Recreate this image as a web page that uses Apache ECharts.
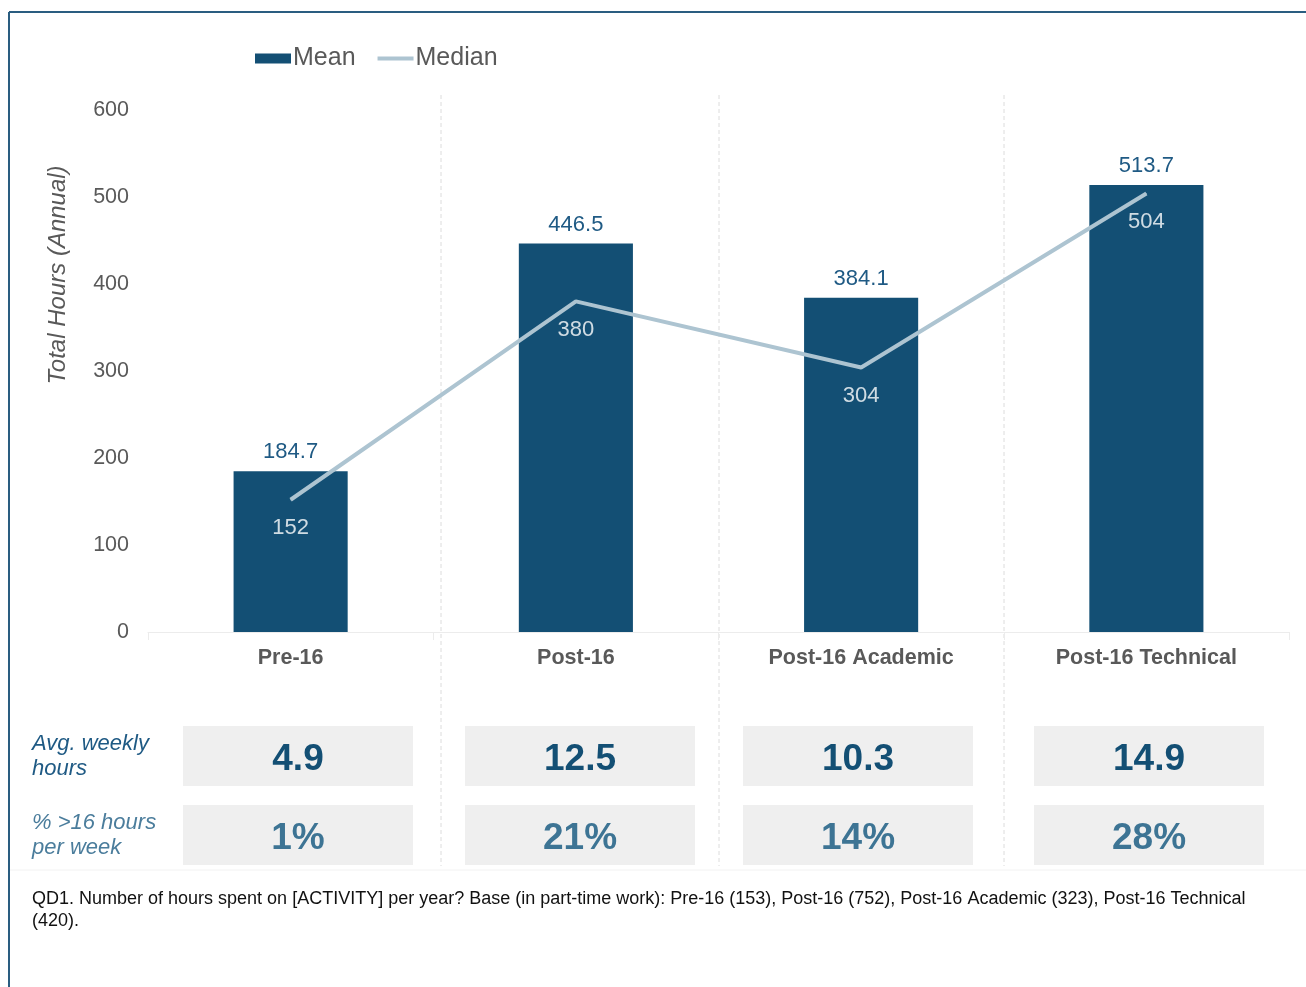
<!DOCTYPE html>
<html>
<head>
<meta charset="utf-8">
<script src="https://cdn.jsdelivr.net/npm/echarts@6/dist/echarts.min.js"></script>
<style>
  html, body { margin: 0; padding: 0; background: #fff; }
  #chart { width: 1306px; height: 987px; }
</style>
</head>
<body>
<div id="chart"></div>
<script>
// data
const categories = ["Pre-16", "Post-16", "Post-16 Academic", "Post-16 Technical"];
const meanHours = [184.7, 446.5, 384.1, 513.7];
const medianHours = [152, 380, 304, 504];
const avgWeekly = ["4.9", "12.5", "10.3", "14.9"];
const pctOver16 = ["1%", "21%", "14%", "28%"];
const yTicks = [0, 100, 200, 300, 400, 500, 600];

const font = "Liberation Sans, Arial, sans-serif";
const dark = "#134f74";
const light = "#adc4d1";

// table boxes (layout only)
const boxX = [183, 465, 743, 1034];
const boxW = 230;
const rows = [
  { y: 726, h: 60, vals: avgWeekly, color: "#134f74", label: "Avg. weekly\nhours", labelColor: "#1f5a84" },
  { y: 805, h: 60, vals: pctOver16, color: "#3d7494", label: "% >16 hours\nper week", labelColor: "#4b7d9c" }
];

let graphics = [
  // frame
  { type: "line", shape: { x1: 9, y1: 12, x2: 1306, y2: 12 }, style: { stroke: "#2a5d80", lineWidth: 2 } },
  { type: "line", shape: { x1: 9, y1: 12, x2: 9, y2: 987 }, style: { stroke: "#2a5d80", lineWidth: 2 } },
  // faint line under table
  { type: "line", shape: { x1: 10, y1: 870, x2: 1306, y2: 870 }, style: { stroke: "#f2f2f2", lineWidth: 1 } },
  // y axis title
  {
    type: "text", x: 58, y: 275, rotation: Math.PI / 2,
    style: { text: "Total Hours (Annual)", font: "italic 24px " + font, fill: "#595959", textAlign: "center", textVerticalAlign: "middle" }
  },
  // footnote
  {
    type: "text", left: 32, top: 888,
    style: {
      text: "QD1. Number of hours spent on [ACTIVITY] per year? Base (in part-time work): Pre-16 (153), Post-16 (752), Post-16 Academic (323), Post-16 Technical\n(420).",
      font: "18px " + font, fill: "#111", lineHeight: 22
    }
  }
];

[441, 719, 1004].forEach(x => {
  graphics.push({ type: "line", z: 0, shape: { x1: x, y1: 95, x2: x, y2: 866 }, style: { stroke: "#dcdcdc", lineWidth: 1, lineDash: [4, 3] } });
});

rows.forEach(r => {
  graphics.push({
    type: "text", left: 32, top: r.y + 5,
    style: { text: r.label, font: "italic 22px " + font, fill: r.labelColor, lineHeight: 25 }
  });
  r.vals.forEach((v, i) => {
    graphics.push({ type: "rect", shape: { x: boxX[i], y: r.y, width: boxW, height: r.h }, style: { fill: "#efefef" } });
    graphics.push({
      type: "text", x: boxX[i] + boxW / 2, y: r.y + r.h / 2 + 4,
      style: { text: v, font: "bold 37px " + font, fill: r.color, textAlign: "center", textVerticalAlign: "middle" }
    });
  });
});

const chart = echarts.init(document.getElementById("chart"));
const option = {
  animation: false,
  textStyle: { fontFamily: font },
  legend: {
    left: 250, top: 41,
    itemWidth: 36, itemHeight: 10, itemGap: 20,
    textStyle: { fontSize: 25, color: "#595959", padding: [0, 0, 0, -3] },
    data: [
      { name: "Mean", icon: "rect" },
      { name: "Median", itemStyle: { opacity: 0 }, lineStyle: { width: 4 } }
    ]
  },
  grid: { left: 148, right: 17, top: 110, bottom: 355 },
  xAxis: {
    type: "category",
    data: categories,
    axisLine: { lineStyle: { color: "#ececec", width: 1 } },
    axisTick: { show: true, length: 8, lineStyle: { color: "#ececec" } },
    axisLabel: { fontSize: 21.5, fontWeight: "bold", color: "#595959", margin: 15 }
  },
  yAxis: {
    type: "value",
    min: yTicks[0], max: yTicks[yTicks.length - 1], interval: 100,
    splitLine: { show: false },
    axisLine: { show: false },
    axisTick: { show: false },
    axisLabel: { fontSize: 21.5, color: "#595959", margin: 19 }
  },
  series: [
    {
      name: "Mean", type: "bar", data: meanHours, barWidth: "40%",
      itemStyle: { color: dark },
      label: { show: true, position: "top", distance: 8, fontSize: 22, color: "#1f5a84" }
    },
    {
      name: "Median", type: "line", data: medianHours, z: 3,
      symbol: "none", lineStyle: { color: light, width: 4 }, itemStyle: { color: light }
    },
    {
      // carries the median value labels
      name: "MedianLabel", type: "scatter", data: medianHours, z: 4,
      symbolSize: 1, itemStyle: { color: light },
      label: { show: true, position: "bottom", distance: 17, fontSize: 22, color: "#ffffff" }
    }
  ],
  graphic: graphics
};
chart.setOption(option);
</script>
</body>
</html>
